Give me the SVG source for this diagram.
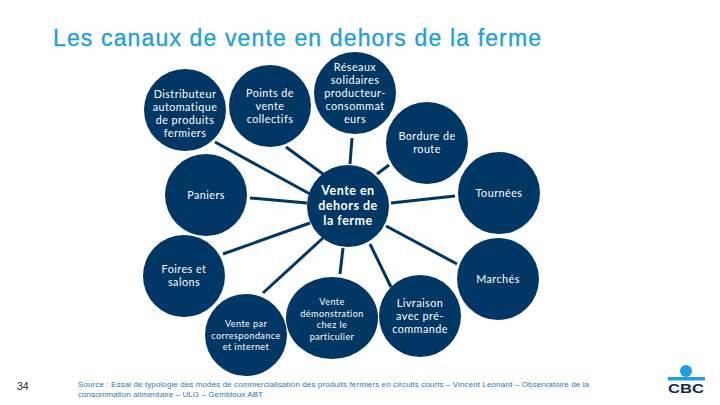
<svg xmlns="http://www.w3.org/2000/svg" width="720" height="405" viewBox="0 0 720 405">
<style>
.n{fill:#003764}
.t{fill:#fff;font-family:Lato,"Noto Sans",sans-serif;font-size:10.8px;letter-spacing:.45px;text-anchor:middle}
.b{font-weight:700;font-size:12.5px;letter-spacing:.5px}
.s{font-size:9.1px;letter-spacing:.4px}
.c{stroke:#003764;stroke-width:3;fill:none}
.f{fill:#2f77ad;font-family:"Liberation Sans",Arial,sans-serif;font-size:8px}
</style>
<rect width="720" height="405" fill="#fff"/>
<text id="title" x="53" y="46" font-family="Liberation Sans,Arial,sans-serif" font-size="23" fill="#23a0d8" stroke="#23a0d8" stroke-width=".35" textLength="488">Les canaux de vente en dehors de la ferme</text>
<g id="connectors" class="c">
<path d="M215 142L310 194"/>
<path d="M286 147L323 174"/>
<path d="M352 138L350 164"/>
<path d="M389 165L377 174"/>
<path d="M250 198L307 203"/>
<path d="M391 203L455 196"/>
<path d="M386 226L457 264"/>
<path d="M370 244L391 287"/>
<path d="M343 248L340 274"/>
<path d="M323 238L263 293"/>
<path d="M310 223L223 254"/>
</g>
<g id="n-distributeur"><circle class="n" cx="185" cy="110" r="41"/><text class="t"><tspan x="185" y="98">Distributeur</tspan><tspan x="185" y="111">automatique</tspan><tspan x="185" y="124">de produits</tspan><tspan x="185" y="137">fermiers</tspan></text></g>
<g id="n-points"><circle class="n" cx="270" cy="106" r="41"/><text class="t"><tspan x="270" y="97">Points de</tspan><tspan x="270" y="110">vente</tspan><tspan x="270" y="123">collectifs</tspan></text></g>
<g id="n-reseaux"><circle class="n" cx="355" cy="93" r="41"/><text class="t"><tspan x="355" y="71">Réseaux</tspan><tspan x="355" y="84">solidaires</tspan><tspan x="355" y="97">producteur-</tspan><tspan x="355" y="110">consommat</tspan><tspan x="355" y="123">eurs</tspan></text></g>
<g id="n-bordure"><circle class="n" cx="427" cy="143" r="41"/><text class="t"><tspan x="427" y="140">Bordure de</tspan><tspan x="427" y="153">route</tspan></text></g>
<g id="n-paniers"><circle class="n" cx="206" cy="195" r="41"/><text class="t" x="206" y="199">Paniers</text></g>
<g id="n-centre"><circle class="n" cx="348" cy="206" r="41"/><text class="t b"><tspan x="348" y="195">Vente en</tspan><tspan x="348" y="210">dehors de</tspan><tspan x="348" y="225">la ferme</tspan></text></g>
<g id="n-tournees"><circle class="n" cx="499" cy="193" r="41"/><text class="t" x="499" y="197">Tournées</text></g>
<g id="n-foires"><circle class="n" cx="184" cy="276" r="41"/><text class="t"><tspan x="184" y="273">Foires et</tspan><tspan x="184" y="286">salons</tspan></text></g>
<g id="n-marches"><circle class="n" cx="498" cy="279" r="41"/><text class="t" x="498" y="283">Marchés</text></g>
<g id="n-correspondance"><circle class="n" cx="246" cy="335" r="41"/><text class="t s"><tspan x="246" y="327">Vente par</tspan><tspan x="246" y="338.5">correspondance</tspan><tspan x="246" y="350">et internet</tspan></text></g>
<g id="n-demonstration"><ellipse class="n" cx="332" cy="318" rx="46" ry="41"/><text class="t s"><tspan x="332" y="305">Vente</tspan><tspan x="332" y="316.5">démonstration</tspan><tspan x="332" y="328">chez le</tspan><tspan x="332" y="339.5">particulier</tspan></text></g>
<g id="n-livraison"><circle class="n" cx="420" cy="316" r="41"/><text class="t"><tspan x="420" y="307">Livraison</tspan><tspan x="420" y="320">avec pré-</tspan><tspan x="420" y="333">commande</tspan></text></g>
<text id="page" x="17" y="390" font-family="Liberation Sans,Arial,sans-serif" font-size="10.5" fill="#223">34</text>
<g id="source" class="f"><text x="78" y="387" textLength="511">Source : Essai de typologie des modes de commercialisation des produits fermiers en circuits courts – Vincent Leonard – Observatoire de la</text><text x="78" y="397" textLength="185">consommation alimentaire – ULG – Gembloux ABT</text></g>
<g id="logo"><circle cx="686" cy="371" r="6" fill="#1f9fe0"/><rect x="668" y="377" width="37" height="3.5" fill="#1f9fe0"/><text x="686" y="393" font-family="Liberation Sans,Arial,sans-serif" font-size="12" font-weight="700" fill="#0d2b52" text-anchor="middle" textLength="36" lengthAdjust="spacingAndGlyphs">CBC</text></g>
</svg>
